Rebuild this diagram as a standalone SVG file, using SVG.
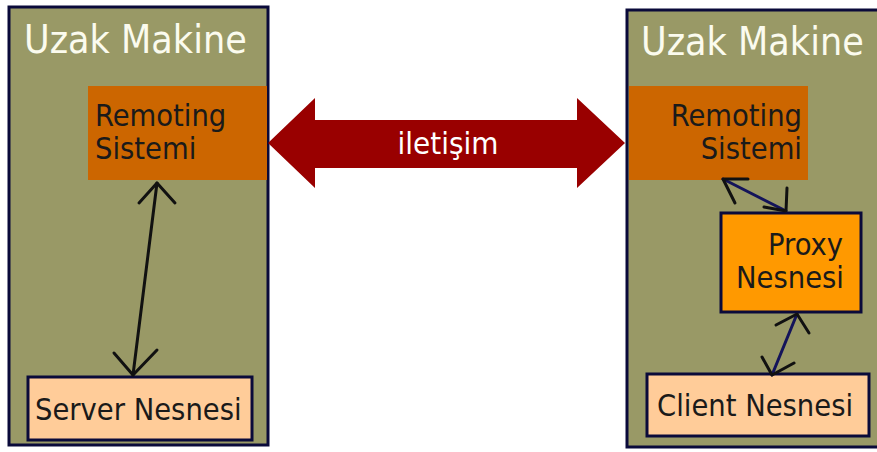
<svg xmlns="http://www.w3.org/2000/svg" width="877" height="452" viewBox="0 0 877 452">
  <style>
    .machine { fill: #999966; stroke: #0a0a3a; stroke-width: 3; }
    .remoting { fill: #cc6600; }
    .proxy { fill: #ff9900; stroke: #0a0a3a; stroke-width: 3; }
    .obj { fill: #ffcc99; stroke: #0a0a3a; stroke-width: 3; }
    .title { font-family: "DejaVu Sans Condensed", "DejaVu Sans", sans-serif; font-size: 39px; fill: #fbfbee; }
    .lbl { font-family: "DejaVu Sans Condensed", "DejaVu Sans", sans-serif; font-size: 30.5px; fill: #1a1a1a; }
    .link { fill: none; stroke-width: 3; stroke-linecap: round; }
    .head { fill: none; stroke: #111; stroke-width: 3; stroke-linecap: round; stroke-linejoin: round; }
  </style>

  <!-- left machine -->
  <g id="left-machine">
    <rect class="machine" x="9" y="7" width="259" height="438"/>
    <text class="title" x="24" y="53">Uzak Makine</text>
  </g>
  <g id="left-remoting">
    <rect class="remoting" x="88" y="86" width="179" height="94"/>
    <text class="lbl" x="95" y="126">Remoting</text>
    <text class="lbl" x="95" y="159">Sistemi</text>
  </g>
  <g id="server-object">
    <rect class="obj" x="28" y="377" width="224" height="63"/>
    <text class="lbl" x="35" y="420">Server Nesnesi</text>
  </g>

  <!-- right machine -->
  <g id="right-machine">
    <rect class="machine" x="627" y="10" width="260" height="437"/>
    <text class="title" x="641" y="55">Uzak Makine</text>
  </g>
  <g id="right-remoting">
    <rect class="remoting" x="629" y="86" width="179" height="94"/>
    <text class="lbl" x="802" y="126" text-anchor="end">Remoting</text>
    <text class="lbl" x="802" y="159" text-anchor="end">Sistemi</text>
  </g>
  <g id="proxy-object">
    <rect class="proxy" x="721" y="213" width="140" height="99"/>
    <text class="lbl" x="843" y="255" text-anchor="end">Proxy</text>
    <text class="lbl" x="844" y="288" text-anchor="end">Nesnesi</text>
  </g>
  <g id="client-object">
    <rect class="obj" x="647" y="374" width="222" height="62"/>
    <text class="lbl" x="657" y="416">Client Nesnesi</text>
  </g>

  <!-- connectors -->
  <g id="connectors">
    <g id="communication">
      <polygon fill="#990000" points="268,143 315,98 315,120 577,120 577,98 625,143 577,188 577,168 315,168 315,188"/>
      <text x="448" y="154" text-anchor="middle" font-family="'DejaVu Sans Condensed', 'DejaVu Sans', sans-serif" font-size="31" fill="#ffffff">iletişim</text>
    </g>
    <g id="remoting-server">
      <line class="link" stroke="#111" x1="157" y1="183" x2="133" y2="375"/>
      <polyline class="head" points="139,203 157,183 175,203"/>
      <polyline class="head" points="114,353 133,375 157,350"/>
    </g>
    <g id="remoting-proxy">
      <line class="link" stroke="#14145a" x1="723" y1="179" x2="786" y2="211"/>
      <polyline class="head" points="748,179 723,179 735,203"/>
      <polyline class="head" points="787,188 786,211 764,207"/>
    </g>
    <g id="proxy-client">
      <line class="link" stroke="#14145a" x1="797" y1="314" x2="772" y2="375"/>
      <polyline class="head" points="776,325 797,314 809,333"/>
      <polyline class="head" points="762,357 772,375 794,363"/>
    </g>
  </g>
</svg>
